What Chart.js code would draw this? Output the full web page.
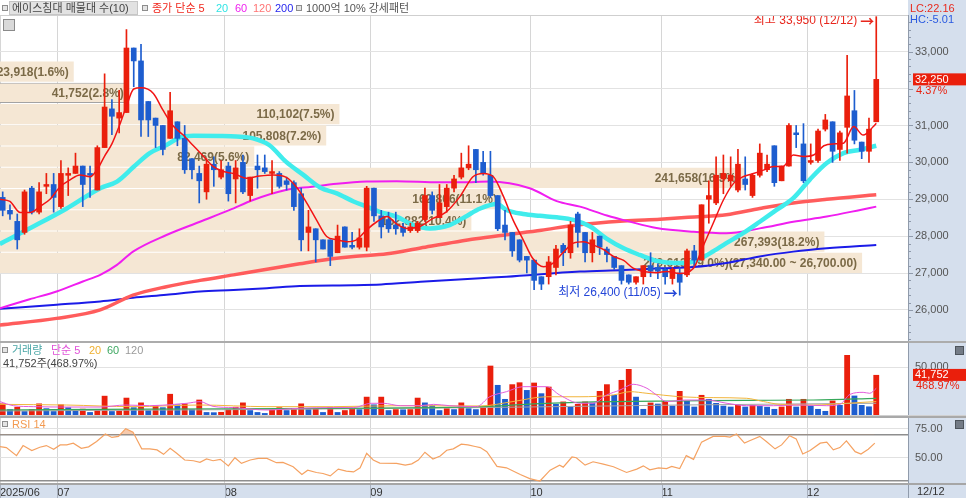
<!DOCTYPE html>
<html lang="ko">
<head>
<meta charset="utf-8">
<title>에이스침대 매물대 차트</title>
<script src="https://cdn.jsdelivr.net/npm/chart.js@4.4.1/dist/chart.umd.min.js"></script>
<style>
  html, body { margin: 0; padding: 0; }
  body {
    position: relative;
    width: 966px;
    height: 498px;
    overflow: hidden;
    background: #d5dfed;
    font-family: "Liberation Sans", "Noto Sans CJK KR", sans-serif;
    font-size: 11px;
    color: #444;
  }
  .abs { position: absolute; white-space: nowrap; line-height: 12px; z-index: 3; }
  .panel { position: absolute; left: 0; width: 966px; z-index: 1; }
  .sq { position: absolute; width: 4px; height: 4px; border: 1px solid #8d8d8d; background: #e4e4e4; z-index: 3; }
  .line { position: absolute; left: 0; width: 966px; z-index: 2; }
  .icon { position: absolute; width: 7px; height: 7px; background: #737b86; border: 1px solid #4d545c; z-index: 3; }
</style>
</head>
<body>
  <div class="line" style="top:0;width:908px;height:15px;background:#fff;"></div>
  <div class="sq" style="left:2px;top:5px"></div>
  <div class="abs" style="left:9px;top:1px;width:125px;height:12px;padding-left:2px;background:#e2e2e2;border:1px solid #c6c6c6;color:#454545">에이스침대 매물대 수(10)</div>
  <div class="sq" style="left:142px;top:5px"></div>
  <div class="abs" style="left:152px;top:2px;color:#f0281e">종가 단순 5</div>
  <div class="abs" style="left:216px;top:2px;color:#30e4e4">20</div>
  <div class="abs" style="left:235px;top:2px;color:#ee22ee">60</div>
  <div class="abs" style="left:253px;top:2px;color:#ff7474">120</div>
  <div class="abs" style="left:275px;top:2px;color:#2626ee">200</div>
  <div class="sq" style="left:296px;top:5px"></div>
  <div class="abs" style="left:306px;top:2px;color:#555">1000억 10% 강세패턴</div>
  <div class="abs" style="left:910px;top:2px;color:#e82a1e">LC:22.16</div>
  <div class="abs" style="left:910px;top:13px;color:#2a5ae0">HC:-5.01</div>
  <div class="abs" style="left:3px;top:19px;width:10px;height:10px;border:1px solid #8a8a8a;background:#d9d9d9"></div>

  <div class="panel" style="top:15px;height:326px"><canvas id="priceChart"></canvas></div>
  <div class="line" style="top:341px;height:2px;background:#acacac"></div>
  <div class="panel" style="top:343px;height:72px"><canvas id="volumeChart"></canvas></div>
  <div class="line" style="top:415px;height:1px;background:#d0d0d0"></div>
  <div class="line" style="top:416px;height:2px;background:#a9a9a9"></div>
  <div class="panel" style="top:418px;height:80px"><canvas id="rsiChart"></canvas></div>

  <div class="sq" style="left:2px;top:347px"></div>
  <div class="abs" style="left:12px;top:344px;color:#4aa6a6">거래량</div>
  <div class="abs" style="left:51px;top:344px;color:#e050d8">단순 5</div>
  <div class="abs" style="left:89px;top:344px;color:#f0b030">20</div>
  <div class="abs" style="left:107px;top:344px;color:#3fa862">60</div>
  <div class="abs" style="left:125px;top:344px;color:#9a9a9a">120</div>
  <div class="abs" id="volInfo" style="left:3px;top:357px;color:#444"></div>
  <div class="icon" style="left:955px;top:346px"></div>

  <div class="sq" style="left:2px;top:421px"></div>
  <div class="abs" style="left:12px;top:418px;color:#f39a50">RSI 14</div>
  <div class="icon" style="left:955px;top:420px"></div>
  <div class="abs" style="left:917px;top:485px;color:#333">12/12</div>

<script>
// x axis: one slot per trading day, month labels at the first day of each month
const monthLabels = ["2025/06", "07", "08", "09", "10", "11", "12"];
const monthStart = [0, 8, 31, 51, 73, 91, 111];

const openP = [
  29050, 28700, 28400, 28100, 29300, 28650, 29350, 29400, 28800, 29650,
  29700, 29900, 29700, 29250, 30400, 31450, 31200, 31350, 33100, 32750,
  31650, 31200, 31000, 30650, 31100, 30650, 30100, 29700, 29200, 29950,
  29600, 29900, 29550, 30000, 29100, 29900, 29850, 29700, 29700, 29500,
  29450, 29150, 28100, 28200, 27900, 27900, 27550, 28250, 27750, 27700,
  27700, 29300, 28550, 28450, 28300, 28250, 28150, 28150, 28450, 29100,
  28500, 28800, 29300, 29600, 29850, 30350, 30000, 29650, 29100, 28300,
  28100, 27900, 27450, 27350, 26900, 26900, 27150, 27750, 27550, 28600,
  28100, 27550, 28000, 27650, 27450, 27200, 26950, 26750, 26900, 27200,
  27150, 27100, 26850, 27000, 26950, 27600, 27350, 29000, 28900, 29550,
  29500, 29250, 29550, 29100, 29650, 29800, 30450, 29500, 29900, 30800,
  30500, 30000, 30050, 30900, 31100, 30350, 30950, 31400, 30550, 30300,
  31100
];
const highP = [
  29200, 28850, 28600, 29250, 29350, 29450, 29700, 29700, 30050, 29850,
  30250, 29900, 29900, 30450, 32400, 31700, 31950, 33600, 33100, 33200,
  31650, 31200, 31000, 31900, 31100, 31000, 30100, 29900, 30100, 30150,
  30050, 30000, 30050, 30200, 29600, 30200, 30200, 30050, 29750, 29600,
  29500, 29300, 28700, 28200, 27900, 27900, 28300, 28250, 28100, 28200,
  29350, 29300, 28700, 28650, 28650, 28350, 28350, 28400, 29300, 29200,
  29400, 29400, 29650, 30250, 30450, 30350, 30300, 30300, 29100, 28700,
  28100, 27900, 27450, 27350, 26900, 27450, 27750, 27800, 28400, 28650,
  28100, 28100, 28000, 27700, 27450, 27200, 26950, 26900, 27200, 27550,
  27250, 27150, 27150, 27150, 27650, 27750, 28850, 29500, 30150, 30200,
  30150, 30350, 30150, 29700, 30500, 30200, 30450, 29900, 31050, 31000,
  31050, 30500, 30900, 31300, 31100, 30850, 32900, 31950, 30550, 31200,
  33950
];
const lowP = [
  28550, 28450, 27650, 28050, 28600, 28600, 29150, 28650, 28750, 29100,
  29700, 28800, 29050, 29250, 30400, 30750, 30800, 31350, 32050, 30700,
  30700, 30400, 30200, 30650, 30450, 29700, 29550, 28900, 29000, 29350,
  29550, 28950, 28900, 29150, 28950, 29300, 29700, 29150, 29300, 29250,
  28700, 27600, 27600, 27300, 27650, 27200, 27550, 27700, 27650, 27650,
  27600, 28400, 27950, 28100, 28050, 28000, 28100, 28100, 28400, 28600,
  28500, 28650, 29200, 29550, 29800, 29450, 29650, 29050, 28150, 27900,
  27450, 27300, 27000, 26550, 26550, 26700, 26950, 27200, 27400, 27700,
  27300, 27300, 27500, 27300, 27100, 26700, 26700, 26700, 26700, 26900,
  26850, 26700, 26700, 26400, 26900, 27150, 27350, 28350, 28850, 29150,
  29350, 29200, 29250, 29050, 29600, 29750, 29350, 29500, 29900, 30400,
  29450, 29950, 30000, 30850, 30000, 30050, 30250, 30500, 30100, 30000,
  31100
];
const closeP = [
  28700, 28600, 27900, 29200, 28650, 29200, 29400, 29050, 29700, 29700,
  29900, 29400, 29650, 30400, 31500, 31250, 31350, 33100, 32750, 31150,
  31150, 31000, 30350, 31400, 30650, 29800, 29800, 29500, 29950, 29800,
  29800, 29150, 29850, 29200, 29600, 29800, 29750, 29750, 29350, 29400,
  28800, 27900, 28250, 27900, 27650, 27450, 28000, 27700, 27700, 27950,
  29300, 28550, 28250, 28200, 28200, 28100, 28250, 28350, 29100, 28700,
  28900, 29300, 29550, 29850, 29950, 29800, 29700, 29100, 28200, 28100,
  27600, 27350, 27350, 26800, 26700, 27300, 27650, 27550, 28300, 28100,
  27550, 27900, 27700, 27500, 27150, 26800, 26750, 26900, 27200, 27050,
  27050, 26900, 27100, 26750, 27600, 27350, 28850, 29100, 29650, 29700,
  29650, 29950, 29400, 29650, 30250, 29950, 29450, 29900, 31000, 30750,
  29500, 30050, 30850, 31150, 30300, 30800, 31800, 30600, 30300, 30900,
  32250
];
const volume = [
  12000, 6000, 8500, 4000, 6000, 12000, 7000, 4000, 11000, 8000,
  6000, 6500, 3000, 6000, 20000, 4000, 4500, 18000, 8000, 13000,
  5000, 10000, 8000, 22000, 11000, 12000, 6000, 16000, 3000, 2800,
  3200, 6000, 8500, 13000, 5000, 3000, 2000, 6000, 8000, 5000,
  6000, 12000, 6000, 6500, 3000, 8000, 3000, 5000, 7000, 6000,
  19000, 11000, 19000, 5000, 6000, 5800, 6000, 18000, 13000, 10000,
  5000, 7000, 6000, 13000, 7000, 6000, 8700, 51400, 31300, 16700,
  32000, 34000, 26000, 33700, 22600, 29500, 11500, 14000, 8700, 11500,
  14000, 12900, 25000, 32000, 20900, 36500, 47900, 19000, 6300, 12900,
  11800, 14600, 9700, 25000, 14600, 8700, 20900, 16700, 12500, 9700,
  8700, 11100, 8700, 10400, 9400, 8500, 6300, 8700, 16700, 8700,
  16700, 9700, 6300, 4200, 15000, 10400, 62500, 20200, 10400, 8903,
  41752
];

// moving averages as [day slot, value]
const ma5 = [
  [-0.4, 29000], [1, 28940], [2.4, 28640], [3.8, 28640], [5.1, 28800], [6.5, 29000], [7.9, 29340],
  [9.2, 29520], [10.6, 29660], [12, 29610], [13, 29810], [14, 30170], [15, 30500], [16, 30980],
  [17, 31520], [18, 31990], [19, 32020], [20.7, 31870], [22, 31420], [23.4, 30990], [24.8, 30740],
  [26.2, 30450], [27.6, 30160], [28.9, 29890], [30.3, 29750], [31.7, 29700], [33.5, 29570],
  [35.3, 29630], [37.2, 29660], [38.9, 29600], [40.4, 29320], [41.8, 28890], [43.1, 28440],
  [44.5, 27990], [45.9, 27900], [47.3, 27850], [48.6, 27900], [50, 28170], [51.4, 28390],
  [52.8, 28530], [54.1, 28330], [55.5, 28210], [57.3, 28260], [59.1, 28480], [60.9, 28650],
  [62.8, 29070], [64.6, 29610], [66, 29700], [67.4, 29610], [68.8, 29070], [70.1, 28440],
  [71.5, 27900], [72.8, 27400], [74.3, 27170], [75.6, 27270], [76.9, 27540], [78.4, 27810],
  [79.8, 27850], [81.1, 27760], [82.5, 27640], [83.9, 27450], [85.3, 27340], [86.6, 27130],
  [88, 27040], [89.8, 27010], [91.2, 27040], [93, 26990], [94.9, 27130], [96.2, 27720],
  [97.6, 28350], [99, 28980], [100.4, 29430], [101.7, 29610], [103, 29690], [104.5, 29790],
  [105.9, 29890], [107.2, 29890], [108.6, 30200], [110, 30160], [111.4, 30200], [112.8, 30450],
  [114.1, 30500], [115.5, 30520], [116.9, 30970], [118.2, 30740], [119.6, 30970], [120, 31060]
];
const ma20 = [
  [-0.4, 27790], [4.2, 28260], [8.8, 28750], [13.4, 29300], [15.7, 29480], [18, 29880], [20.2, 30250],
  [22.5, 30470], [24.4, 30680], [26.2, 30720], [29.9, 30715], [32.1, 30700], [34.4, 30650],
  [36.6, 30470], [38.9, 30020], [41.3, 29660], [43.6, 29320], [45.9, 29160], [48.2, 28940],
  [50, 28800], [51.8, 28660], [54.1, 28530], [56.4, 28300], [58.7, 28210], [61.4, 28300],
  [63.5, 28520], [65.6, 28750], [67.9, 28870], [69.2, 28710], [71.5, 28600], [73.8, 28550],
  [76.1, 28510], [78.4, 28440], [80.7, 28260], [82.9, 27940], [85.3, 27670], [87.5, 27490],
  [89.8, 27330], [92.6, 27270], [94.9, 27310], [97.2, 27540], [99.4, 27810], [101.7, 28080],
  [104, 28390], [106.3, 28710], [108.6, 29030], [110.9, 29540], [113.2, 29980], [115.5, 30250],
  [117.8, 30340], [120, 30450]
];
const ma60 = [
  [-0.4, 26045], [3.7, 26290], [7.4, 26500], [11, 26770], [13.4, 26950], [15.7, 27220], [17.9, 27580],
  [22.5, 28030], [27.1, 28390], [31.2, 28710], [34.4, 28980], [38.9, 29250], [42.5, 29340],
  [45.9, 29420], [50, 29480], [54.1, 29490], [60, 29460], [63, 29460], [66.9, 29480], [72.4, 29300],
  [76.1, 28950], [79.3, 28800], [83, 28560], [86, 28400], [89.8, 28220], [94.9, 28120],
  [99.4, 28080], [104, 28210], [108.6, 28390], [113.2, 28530], [117.8, 28710], [120, 28800]
];
const ma120 = [
  [-0.4, 25590], [7.4, 25770], [13.4, 26000], [17.9, 26400], [22.5, 26630], [27.1, 26800],
  [31.7, 26950], [36.3, 27100], [40.8, 27250], [45, 27380], [48.2, 27450], [52.8, 27520],
  [57.4, 27680], [65, 27930], [69.2, 28040], [74, 28160], [78.4, 28290], [85.3, 28410],
  [90.3, 28460], [95, 28520], [99.4, 28580], [104, 28750], [108.6, 28900], [113.2, 29000], [120, 29120]
];
const ma200 = [
  [-0.4, 26030], [7.4, 26140], [13.4, 26230], [17.9, 26330], [22.5, 26410], [27.1, 26500],
  [31.7, 26540], [36.3, 26590], [40.8, 26650], [48.2, 26670], [52, 26690], [57.4, 26760],
  [65.6, 26860], [69.2, 26900], [79.3, 27040], [85.3, 27080], [90.3, 27130], [94.9, 27160],
  [99.4, 27270], [104, 27450], [108.6, 27580], [113.2, 27670], [120, 27760]
];

const vMa5 = [
  [-0.4, 14000], [1.5, 9700], [4.2, 8700], [8.8, 8300], [13.4, 8300], [16.9, 10400], [20.2, 9700],
  [23.6, 11100], [25.3, 12200], [27.1, 13900], [28.9, 9000], [31.7, 7700], [36.3, 5200], [40.8, 7000],
  [45.4, 7700], [48.2, 7700], [50.6, 12200], [52.3, 12200], [54.6, 9700], [57.3, 9700], [59.2, 11100],
  [61.4, 9700], [65.1, 8700], [66.9, 19000], [69.2, 24300], [71.5, 29500], [74.7, 29500],
  [76.5, 20900], [79.3, 12200], [81.1, 12200], [83, 20900], [84.8, 26000], [86.6, 32000],
  [88.5, 27800], [89.8, 20900], [91.2, 14000], [93.9, 15600], [96.7, 15600], [99.5, 12200],
  [102.2, 9700], [105.9, 9700], [109.5, 10400], [113.2, 9700], [115, 11100], [116.4, 21500],
  [118.2, 23600], [119.1, 22600], [120, 27800]
];
const vMa20 = [
  [-0.4, 11100], [8.8, 10400], [17.9, 8700], [27.1, 10400], [36.3, 8700], [45.4, 8700], [54.6, 9700],
  [65.6, 9400], [70.1, 14000], [74.7, 19000], [79.3, 19000], [83.9, 20900], [86.2, 24300],
  [88.5, 22600], [93, 19000], [97.6, 18100], [102.2, 17400], [104.5, 14000], [106.8, 11100],
  [111.4, 10400], [115.9, 12200], [120, 14000]
];
const vMa60 = [
  [-0.4, 5200], [20, 6200], [45.4, 7000], [65.6, 8700], [74.7, 12200], [83.9, 14000], [93, 14600],
  [102.2, 15300], [111.4, 15600], [120, 17400]
];
const vMa120 = [[-0.4, 4200], [30, 5500], [65.6, 7700], [93, 10400], [120, 12200]];

const rsi = [
  [-0.4, 59.6], [0.5, 58.7], [1.9, 51.8], [2.8, 60.4], [4, 56.1], [5.1, 59], [6, 60.4], [7, 57.3],
  [7.9, 61], [8.8, 61], [9.7, 62.5], [10.8, 58.1], [11.8, 59.3], [12.9, 63.9], [14.1, 70.3], [15, 67.4],
  [15.9, 68.3], [16.9, 74.9], [17.9, 72], [19.1, 57.6], [20.2, 57.6], [21.2, 56.7], [22.1, 52.9],
  [23, 58.1], [23.9, 53.8], [25, 48], [26.2, 47.4], [27.1, 46], [28, 48.9], [28.9, 47.4], [29.9, 48.6],
  [31, 43], [31.9, 50], [32.8, 45.1], [34, 48], [35.1, 49.4], [36.3, 49.4], [37.6, 45.7], [38.5, 46],
  [39.9, 42.2], [41.1, 35.5], [41.9, 39.3], [43.1, 37.3], [44, 36.4], [45, 34.4], [46.1, 40.2],
  [47.2, 38.4], [48.2, 37.8], [49.1, 41.3], [50, 53.8], [50.9, 48], [51.8, 45.4], [54.1, 45.1],
  [55.3, 43.6], [56.2, 44.7], [57.1, 48], [58, 54.7], [59.1, 48.9], [60.1, 51.5], [61, 56.4],
  [61.9, 57.6], [63, 61.6], [63.9, 61], [64.9, 59.6], [65.6, 58.7], [66.5, 55.2], [67.9, 42.5],
  [69.2, 41.3], [71.1, 35.5], [72.4, 32], [73.8, 30], [75.2, 39.3], [76.5, 43.6], [77, 41.9],
  [78.2, 50.6], [78.8, 50], [80, 43.6], [81.1, 46.5], [82.5, 44.5], [83.9, 42.2], [85.7, 37.3],
  [87.1, 40.2], [88, 43], [88.9, 39.6], [90.1, 41.3], [91.2, 40.7], [91.9, 42.5], [93, 40.7],
  [93.9, 51.8], [94.9, 48.6], [96, 63.4], [97.6, 68.3], [99.2, 68.3], [99.9, 67.7], [100.8, 70.3],
  [101.9, 62.5], [102.6, 64.5], [104, 68.3], [104.9, 63.9], [106.1, 57.6], [107, 61], [108.1, 68.9],
  [109, 66.2], [109.9, 53.2], [110.9, 56.1], [112.3, 62.5], [113.2, 63.4], [114.1, 56.7], [115, 58.7],
  [115.9, 64.5], [117.1, 55.2], [117.9, 53.2], [118.9, 57.3], [119.8, 62.5]
];

// volume profile (매물대): 10 bands of 640 between the lowest and highest close
const profileLow = [26700, 27340, 27980, 28620, 29260, 29900, 30540, 31180, 31820, 32460];
const profileStep = 640;
const profileVol = [279613, 267393, 152882, 162806, 241658, 82469, 105808, 110102, 41752, 23918];

const priceTicks = [26000, 27000, 28000, 29000, 30000, 31000, 32000, 33000];
const volumeTicks = [50000];
const rsiTicks = [30, 50, 70, 75];
const rsiLabeled = [50, 75];
const rsiLevels = [30, 70];
const extremeDates = ["12/12", "11/05"];

const FONT = '"Liberation Sans", "Noto Sans CJK KR", sans-serif';
const UP = "#ea1f0c";
const DOWN = "#1d5dcf";
const X_MIN = -0.37;
const X_MAX = 124.36;

Chart.defaults.font.family = FONT;
Chart.defaults.font.size = 11;

const fmt = (v) => Math.round(v).toLocaleString("en-US");
const fmt2 = (v) => fmt(v) + ".00";
const pts = (arr) => arr.map(([x, y]) => ({ x, y }));
const candleColor = (i) => (closeP[i] >= openP[i] ? UP : DOWN);
const volumeColor = (i) => (i === 0 || volume[i] >= volume[i - 1] ? UP : DOWN);

function line(label, arr, color, width, order) {
  return {
    type: "line",
    label,
    data: pts(arr),
    borderColor: color,
    borderWidth: width,
    pointRadius: 0,
    cubicInterpolationMode: "monotone",
    fill: false,
    order,
    xAxisID: "x",
    yAxisID: "y",
  };
}

function xScale(showLabels) {
  return {
    type: "linear",
    min: X_MIN,
    max: X_MAX,
    offset: false,
    afterBuildTicks: (s) => {
      s.ticks = monthStart.map((i) => ({ value: Math.max(i - 0.5, X_MIN) }));
    },
    afterFit: (s) => {
      s.height = showLabels ? 14 : 0;
      s.paddingLeft = 0;
      s.paddingRight = 0;
    },
    grid: { color: "#d6d6d6", drawTicks: false, offset: false },
    border: { display: false },
    ticks: {
      display: showLabels,
      align: "start",
      maxRotation: 0,
      autoSkip: false,
      padding: 2,
      color: "#333",
      callback: (v, i) => monthLabels[i],
    },
  };
}

function rightAxis(min, max, ticks, callback, grid) {
  return {
    position: "right",
    min,
    max,
    afterBuildTicks: (s) => {
      s.ticks = ticks.map((v) => ({ value: v }));
    },
    afterFit: (s) => {
      s.width = 58;
      s.paddingTop = 0;
      s.paddingBottom = 0;
    },
    grid: grid || { color: "#e2e2e2", drawTicks: false },
    border: { color: "#909bab" },
    ticks: { color: "#555", padding: 7, callback },
  };
}

function priceTag(ctx, x, y, text, sub) {
  ctx.save();
  ctx.fillStyle = UP;
  ctx.fillRect(x + 5, y - 6, 53, 12);
  ctx.font = "11px " + FONT;
  ctx.textAlign = "left";
  ctx.textBaseline = "middle";
  ctx.fillStyle = "#fff";
  ctx.fillText(text, x + 7, y + 0.5);
  ctx.fillStyle = UP;
  ctx.fillText(sub, x + 8, y + 11.5);
  ctx.restore();
}

// text with a bold arrow at its right end, ending at x
function arrowLabel(ctx, text, x, y, color) {
  ctx.fillStyle = color;
  ctx.textAlign = "right";
  ctx.textBaseline = "middle";
  ctx.font = 'bold 14px "Noto Sans CJK KR", sans-serif';
  const w = ctx.measureText("→").width;
  ctx.fillText("→", x, y);
  ctx.font = "12px " + FONT;
  ctx.fillText(text, x - w - 3, y);
}

const whiteArea = {
  id: "whiteArea",
  beforeDraw(chart) {
    const { ctx, chartArea: a } = chart;
    ctx.save();
    ctx.fillStyle = "#fff";
    ctx.fillRect(a.left, a.top, a.right - a.left, a.bottom - a.top);
    ctx.restore();
  },
};

const lastClose = closeP[closeP.length - 1];
const curBand = profileLow.findIndex((lo) => lastClose >= lo && lastClose < lo + profileStep);

const priceOverlay = {
  id: "priceOverlay",
  afterDatasetDraw(chart, args) {
    if (args.index !== 0) return;
    // band labels sit under the candles
    const { ctx } = chart;
    const total = profileVol.reduce((a, b) => a + b, 0);
    const top = profileVol.indexOf(Math.max(...profileVol));
    ctx.save();
    ctx.font = "bold 12px " + FONT;
    ctx.fillStyle = "#7b6a47";
    ctx.textAlign = "right";
    ctx.textBaseline = "middle";
    args.meta.data.forEach((bar, k) => {
      let txt = fmt(profileVol[k]) + "(" + ((profileVol[k] / total) * 100).toFixed(1) + "%)";
      if (k === top) txt += "(" + fmt2(profileLow[k] + profileStep) + " ~ " + fmt2(profileLow[k]) + ")";
      ctx.fillText(txt, bar.x - 5, bar.y + 1);
    });
    ctx.restore();
  },
  afterDatasetsDraw(chart) {
    const { ctx, scales } = chart;
    const hi = Math.max(...highP);
    const lo = Math.min(...lowP);
    ctx.save();
    arrowLabel(ctx, "최고 " + fmt(hi) + " (" + extremeDates[0] + ")",
      scales.x.getPixelForValue(highP.indexOf(hi)) - 2, scales.y.getPixelForValue(hi) + 4, "#e8261c");
    arrowLabel(ctx, "최저 " + fmt(lo) + " (" + extremeDates[1] + ")",
      scales.x.getPixelForValue(lowP.indexOf(lo)) - 2, scales.y.getPixelForValue(lo) - 2, "#2446d8");
    ctx.restore();
  },
  afterDraw(chart) {
    const { ctx, chartArea: a, scales } = chart;
    ctx.save();
    ctx.strokeStyle = "#cfcfcf";
    ctx.beginPath();
    ctx.moveTo(0, a.top + 0.5);
    ctx.lineTo(a.right, a.top + 0.5);
    ctx.stroke();
    ctx.strokeStyle = "#8f9aab";
    for (let v = 25200; v <= 33800; v += 200) {
      const y = Math.round(scales.y.getPixelForValue(v)) + 0.5;
      ctx.beginPath();
      ctx.moveTo(a.right, y);
      ctx.lineTo(a.right + (v % 1000 === 0 ? 5 : 3), y);
      ctx.stroke();
    }
    ctx.restore();
    const prev = closeP[closeP.length - 2];
    priceTag(ctx, a.right, scales.y.getPixelForValue(lastClose), fmt(lastClose),
      (((lastClose - prev) / prev) * 100).toFixed(2) + "%");
  },
};

const volumeOverlay = {
  id: "volumeOverlay",
  afterDraw(chart) {
    const n = volume.length;
    priceTag(chart.ctx, chart.chartArea.right, chart.scales.y.getPixelForValue(volume[n - 1]),
      fmt(volume[n - 1]), ((volume[n - 1] / volume[n - 2]) * 100).toFixed(2) + "%");
  },
};

const rsiOverlay = {
  id: "rsiOverlay",
  afterDraw(chart) {
    const { ctx, chartArea: a, scales } = chart;
    ctx.save();
    ctx.lineWidth = 1;
    ctx.strokeStyle = "#aab2bf";
    scales.x.ticks.forEach((t) => {
      const px = Math.round(scales.x.getPixelForValue(t.value)) + 0.5;
      ctx.beginPath();
      ctx.moveTo(px, a.bottom);
      ctx.lineTo(px, chart.height);
      ctx.stroke();
    });
    ctx.strokeStyle = "#909bab";
    ctx.beginPath();
    ctx.moveTo(a.right + 0.5, a.bottom);
    ctx.lineTo(a.right + 0.5, chart.height);
    ctx.stroke();
    ctx.strokeStyle = "#a6a6a6";
    ctx.lineWidth = 2;
    ctx.beginPath();
    ctx.moveTo(0, a.bottom);
    ctx.lineTo(chart.width, a.bottom);
    ctx.stroke();
    ctx.restore();
  },
};

const baseOptions = {
  responsive: true,
  maintainAspectRatio: false,
  animation: false,
  layout: { padding: 0 },
  plugins: { legend: { display: false }, tooltip: { enabled: false } },
};

new Chart(document.getElementById("priceChart"), {
  type: "bar",
  data: {
    datasets: [
      {
        label: "매물대",
        indexAxis: "y",
        xAxisID: "xp",
        yAxisID: "yp",
        data: profileVol.map((v, k) => ({ x: v, y: profileLow[k] + profileStep / 2 })),
        backgroundColor: "#f5e7d4",
        borderColor: (c) => (c.dataIndex === curBand ? "#a3a3a3" : "rgba(0,0,0,0)"),
        borderWidth: (c) => (c.dataIndex === curBand ? 1 : 0),
        borderSkipped: "start",
        barPercentage: 0.95,
        categoryPercentage: 1,
        grouped: false,
        order: 10,
      },
      line("200", ma200, "#1b1be8", 2, 8),
      line("120", ma120, "#ff5c5c", 3.5, 7),
      line("60", ma60, "#f01ef0", 2, 6),
      line("20", ma20, "#40ecec", 4.5, 5),
      {
        label: "고저",
        xAxisID: "x",
        yAxisID: "y",
        data: openP.map((o, i) => ({ x: i, y: [lowP[i], highP[i]] })),
        backgroundColor: (c) => candleColor(c.dataIndex),
        barThickness: 1,
        grouped: false,
        order: 4,
      },
      {
        label: "시종",
        xAxisID: "x",
        yAxisID: "y",
        data: openP.map((o, i) => ({ x: i, y: [o, closeP[i]] })),
        backgroundColor: (c) => candleColor(c.dataIndex),
        barThickness: 5,
        minBarLength: 1,
        grouped: false,
        order: 3,
      },
      line("5", ma5, "#f21414", 1.5, 2),
    ],
  },
  options: {
    ...baseOptions,
    scales: {
      x: xScale(false),
      xp: { type: "linear", axis: "x", display: false, offset: false, min: 0, max: 294500 },
      y: rightAxis(25157, 33995, priceTicks, (v) => (Math.abs(v - lastClose) < 450 ? "" : fmt(v))),
      yp: { type: "linear", axis: "y", display: false, min: 25157, max: 33995 },
    },
  },
  plugins: [whiteArea, priceOverlay],
});

new Chart(document.getElementById("volumeChart"), {
  type: "bar",
  data: {
    datasets: [
      line("5", vMa5, "#e35ddc", 1, 1),
      line("20", vMa20, "#f2b53c", 1, 1),
      line("60", vMa60, "#36a85a", 1.2, 1),
      line("120", vMa120, "#a5a5a5", 1, 1),
      {
        label: "거래량",
        data: volume.map((v, i) => ({ x: i, y: v })),
        backgroundColor: (c) => volumeColor(c.dataIndex),
        barPercentage: 0.8,
        categoryPercentage: 1,
        grouped: false,
        order: 5,
      },
    ],
  },
  options: {
    ...baseOptions,
    scales: {
      x: xScale(false),
      y: rightAxis(0, 75000, volumeTicks, fmt),
    },
  },
  plugins: [whiteArea, volumeOverlay],
});

new Chart(document.getElementById("rsiChart"), {
  type: "line",
  data: {
    datasets: [
      {
        label: "RSI 14",
        data: pts(rsi),
        borderColor: "#f5a262",
        borderWidth: 1.2,
        pointRadius: 0,
        tension: 0,
        fill: { target: { value: 70 }, above: "rgba(240,150,90,0.5)", below: "rgba(0,0,0,0)" },
      },
    ],
  },
  options: {
    ...baseOptions,
    scales: {
      x: xScale(true),
      y: rightAxis(27.4, 84.1, rsiTicks, (v) => (rsiLabeled.includes(v) ? v.toFixed(2) : ""), {
        drawTicks: false,
        color: (c) => (c.tick && rsiLevels.includes(c.tick.value) ? "#8e8e8e" : "#e1e1e1"),
        lineWidth: (c) => (c.tick && rsiLevels.includes(c.tick.value) ? 1.5 : 1),
      }),
    },
  },
  plugins: [whiteArea, rsiOverlay],
});

const n = volume.length;
document.getElementById("volInfo").textContent =
  fmt(volume[n - 1]) + "주(" + ((volume[n - 1] / volume[n - 2]) * 100).toFixed(2) + "%)";
</script>
</body>
</html>
